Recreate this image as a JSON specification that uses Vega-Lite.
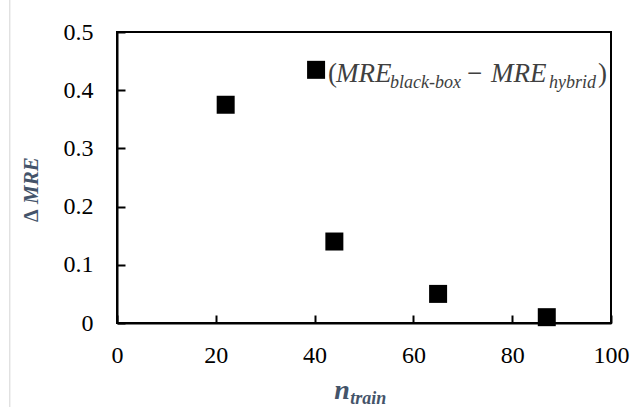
{
  "$schema": "https://vega.github.io/schema/vega-lite/v6.json",
  "width": 494,
  "height": 291,
  "autosize": {"type": "none"},
  "padding": {"left": 117, "top": 32, "right": 31, "bottom": 84},
  "background": "white",
  "config": {
    "view": {"stroke": "black", "strokeWidth": 2},
    "font": "Liberation Serif",
    "axis": {
      "grid": false,
      "domainColor": "black",
      "domainWidth": 2,
      "tickColor": "black",
      "tickWidth": 2,
      "tickSize": -8,
      "labelFont": "Liberation Serif",
      "labelFontSize": 24,
      "labelColor": "#000000",
      "titleFont": "Liberation Serif"
    }
  },
  "datasets": {
    "pts": [
      {"n_train": 22, "dMRE": 0.375},
      {"n_train": 44, "dMRE": 0.14},
      {"n_train": 65, "dMRE": 0.05},
      {"n_train": 87, "dMRE": 0.01}
    ],
    "legend": [{"n_train": 40.3, "dMRE": 0.435}],
    "xtitle": [{"n_train": 44.0, "dMRE": -0.13}],
    "ytitle": [{"n_train": -16.0, "dMRE": 0.1735}],
    "frame": [{"n_train": -21.7, "dMRE": 0.56, "dMRE2": -0.15}]
  },
  "encoding": {
    "x": {"field": "n_train", "type": "quantitative",
      "scale": {"domain": [0, 100], "nice": false},
      "axis": {"values": [0, 20, 40, 60, 80, 100], "title": null, "labelPadding": 28, "labelFlush": false}},
    "y": {"field": "dMRE", "type": "quantitative",
      "scale": {"domain": [0, 0.5], "nice": false},
      "axis": {"values": [0, 0.1, 0.2, 0.3, 0.4, 0.5], "format": "~g", "labelPadding": 32, "labelFlush": false,
        "title": null}}
  },
  "layer": [
    {"data": {"name": "frame"}, "mark": {"type": "rule", "color": "#d4d4d4", "strokeWidth": 1},
      "encoding": {"y2": {"field": "dMRE2"}}},
    {"data": {"name": "pts"}, "mark": {"type": "point", "shape": "square", "filled": true, "color": "black", "size": 324, "opacity": 1}},
    {"data": {"name": "legend"}, "mark": {"type": "point", "shape": "square", "filled": true, "color": "black", "size": 324, "opacity": 1}},
    {"data": {"name": "legend"}, "mark": {"type": "text", "text": "(", "align": "left", "baseline": "alphabetic", "dx": 12, "dy": 12, "fontSize": 27, "color": "#404040"}},
    {"data": {"name": "legend"}, "mark": {"type": "text", "text": "MRE", "align": "left", "baseline": "alphabetic", "dx": 20, "dy": 12, "fontSize": 27, "fontStyle": "italic", "color": "#404040"}},
    {"data": {"name": "legend"}, "mark": {"type": "text", "text": "black-box", "align": "left", "baseline": "alphabetic", "dx": 74, "dy": 18, "fontSize": 18, "fontStyle": "italic", "color": "#404040"}},
    {"data": {"name": "legend"}, "mark": {"type": "text", "text": "−", "align": "left", "baseline": "alphabetic", "dx": 151, "dy": 12, "fontSize": 27, "color": "#404040"}},
    {"data": {"name": "legend"}, "mark": {"type": "text", "text": "MRE", "align": "left", "baseline": "alphabetic", "dx": 175, "dy": 12, "fontSize": 27, "fontStyle": "italic", "color": "#404040"}},
    {"data": {"name": "legend"}, "mark": {"type": "text", "text": "hybrid", "align": "left", "baseline": "alphabetic", "dx": 233, "dy": 18, "fontSize": 18, "fontStyle": "italic", "color": "#404040"}},
    {"data": {"name": "legend"}, "mark": {"type": "text", "text": ")", "align": "left", "baseline": "alphabetic", "dx": 282, "dy": 12, "fontSize": 27, "color": "#404040"}},
    {"data": {"name": "xtitle"}, "mark": {"type": "text", "text": "n", "align": "left", "baseline": "alphabetic", "dx": 0, "dy": 0, "fontSize": 28, "fontStyle": "italic", "fontWeight": "bold", "color": "#44546A"}},
    {"data": {"name": "xtitle"}, "mark": {"type": "text", "text": "train", "align": "left", "baseline": "alphabetic", "dx": 16, "dy": 5, "fontSize": 18, "fontStyle": "italic", "fontWeight": "bold", "color": "#44546A"}},
    {"data": {"name": "ytitle"}, "mark": {"type": "text", "text": "Δ", "angle": 270, "align": "left", "baseline": "alphabetic", "dx": 0, "dy": 0, "fontSize": 20, "fontWeight": "bold", "color": "#44546A"}},
    {"data": {"name": "ytitle"}, "mark": {"type": "text", "text": "MRE", "angle": 270, "align": "left", "baseline": "alphabetic", "dx": 18, "dy": 0, "fontSize": 21, "fontStyle": "italic", "fontWeight": "bold", "color": "#44546A"}}
  ]
}
